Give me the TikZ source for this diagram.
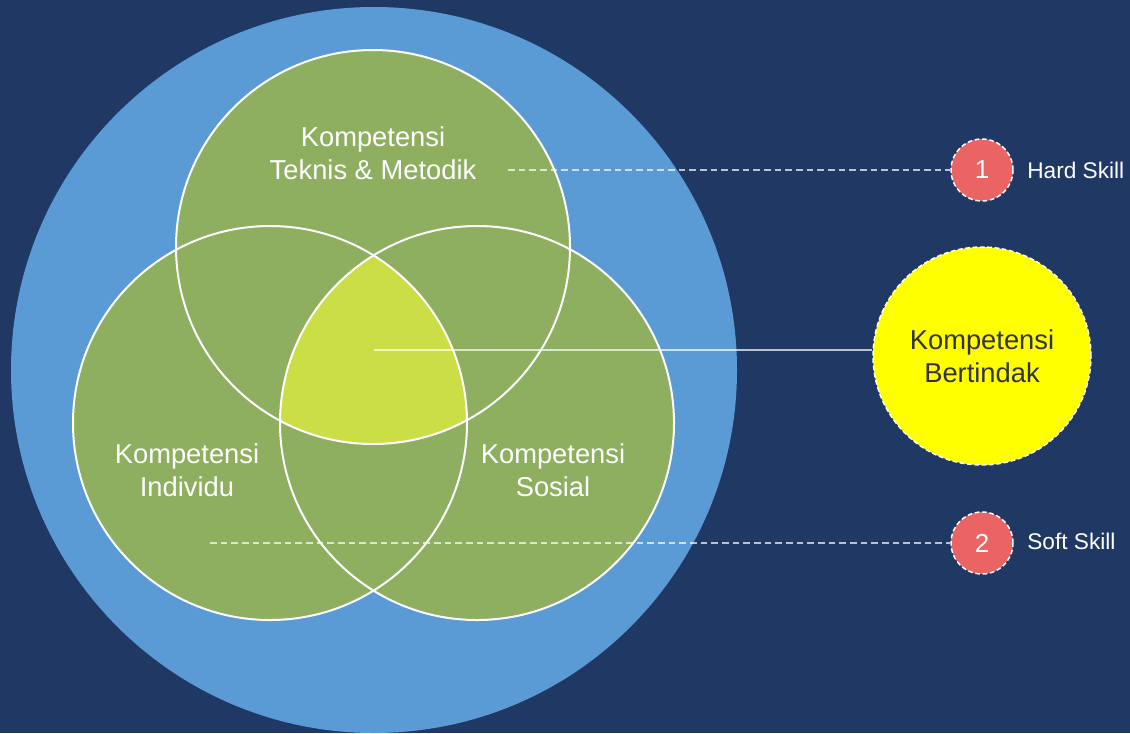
\documentclass[tikz,border=0pt]{standalone}
\usepackage{fontspec}
\setmainfont{Liberation Sans}
\begin{document}
\definecolor{bgnavy}{RGB}{31,56,100}
\definecolor{outerblue}{RGB}{91,155,213}
\definecolor{venngreen}{RGB}{142,174,96}
\definecolor{corelime}{RGB}{203,222,70}
\definecolor{badgered}{RGB}{234,100,100}
\definecolor{actyellow}{RGB}{255,255,0}
\definecolor{darktext}{RGB}{51,51,51}
\begin{tikzpicture}[x=0.75pt,y=-0.75pt,
  venntext/.style={text=white,align=center,inner sep=0pt,
    font=\fontsize{20.5}{24.5}\selectfont},
  badge/.style={circle,fill=badgered,draw=white,line width=1.1pt,
    dash pattern=on 3.5pt off 2pt,minimum size=46.5pt,inner sep=0pt,
    text=white,font=\fontsize{19.5}{22}\selectfont},
  sidetext/.style={text=white,anchor=west,inner sep=0pt,
    font=\fontsize{17}{20}\selectfont},
  guide/.style={draw=white,draw opacity=0.7,line width=0.9pt,
    dash pattern=on 5pt off 3pt},
  pointer/.style={draw=white,draw opacity=0.7,line width=0.9pt}]
  % canvas
  \fill[bgnavy] (0,0) rectangle (1130,733);
  \useasboundingbox (0,0) rectangle (1130,733);

  % outer circle
  \fill[outerblue] (374,370) circle (363);

  % the three competence circles
  \fill[venngreen] (373,247) circle (197);
  \fill[venngreen] (270,423) circle (197);
  \fill[venngreen] (477,423) circle (197);

  % common core of all three
  \begin{scope}
    \clip (373,247) circle (197);
    \clip (270,423) circle (197);
    \fill[corelime] (477,423) circle (197);
  \end{scope}

  % outlines
  \draw[white,line width=1.5pt] (373,247) circle (197);
  \draw[white,line width=1.5pt] (270,423) circle (197);
  \draw[white,line width=1.5pt] (477,423) circle (197);

  % labels inside the circles
  \node[venntext] (teknis) at (373,153) {Kompetensi\\Teknis \& Metodik};
  \node[venntext] (individu) at (187,470) {Kompetensi\\Individu};
  \node[venntext] (sosial) at (553,470) {Kompetensi\\Sosial};

  % right-hand markers
  \node[badge] (r1) at (982,170) {1};
  \node[badge] (r2) at (982,543) {2};
  \node[circle,fill=actyellow,draw=white,line width=1.1pt,
    dash pattern=on 3.5pt off 2pt,minimum size=163.5pt,inner sep=0pt,
    text=darktext,align=center,font=\fontsize{20.5}{24.5}\selectfont]
    (yc) at (982,356) {Kompetensi\\Bertindak};
  \node[sidetext] (hard) at (1027,170) {Hard Skill};
  \node[sidetext] (soft) at (1027,541) {Soft Skill};

  % connectors
  \coordinate (hstart) at (508,170);
  \coordinate (sstart) at (210,543);
  \coordinate (core) at (374,350);
  \draw[guide] (hstart) -- (r1.west);
  \draw[guide] (sstart) -- (r2.west);
  \draw[pointer] (core) -- (core -| yc.west);
\end{tikzpicture}
\end{document}
